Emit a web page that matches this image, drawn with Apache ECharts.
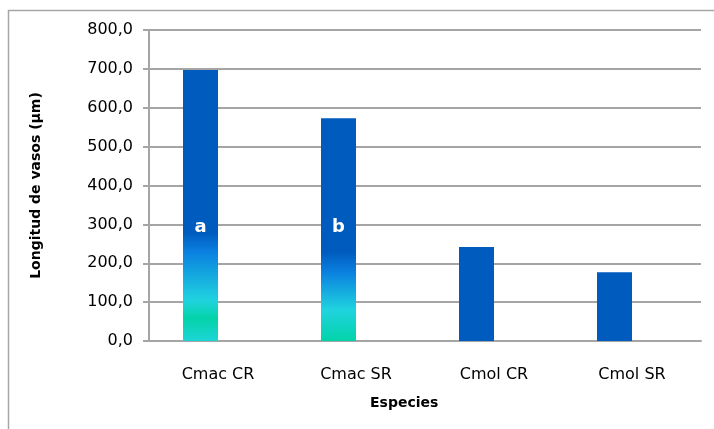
<!DOCTYPE html>
<html>
<head>
<meta charset="utf-8">
<script src="https://cdn.jsdelivr.net/npm/echarts@6/dist/echarts.min.js"></script>
<style>
  html, body { margin: 0; padding: 0; background: #fff; }
  #chart { width: 714px; height: 429px; }
</style>
</head>
<body>
<div id="chart"></div>
<script>
// ---- data ----
const categories = ['Cmac CR', 'Cmac SR', 'Cmol CR', 'Cmol SR'];
const lengths = [697, 573, 242, 177];
const letters = ['a', 'b', '', ''];
const yTicks = [0, 100, 200, 300, 400, 500, 600, 700, 800];
const xTitle = 'Especies';
const yTitle = 'Longitud de vasos (µm)';

const FONT = 'DejaVu Sans';
const GRID_COLOR = '#a5a5a5';

const gradA = new echarts.graphic.LinearGradient(0, 0, 0, 1, [
  { offset: 0, color: '#005BBE' },
  { offset: 0.60, color: '#005BBE' },
  { offset: 0.67, color: '#0A80E0' },
  { offset: 0.85, color: '#20D3DF' },
  { offset: 0.915, color: '#03D3A9' },
  { offset: 1, color: '#1DD5D6' }
]);
const gradB = new echarts.graphic.LinearGradient(0, 0, 0, 1, [
  { offset: 0, color: '#005BBE' },
  { offset: 0.60, color: '#005BBE' },
  { offset: 0.69, color: '#0A80E0' },
  { offset: 0.86, color: '#20D3DF' },
  { offset: 1, color: '#03D3A9' }
]);
const fills = [gradA, gradB, '#005BBE', '#005BBE'];

const barData = lengths.map((v, i) => ({
  value: v,
  itemStyle: { color: fills[i] },
  label: {
    show: letters[i] !== '',
    formatter: letters[i],
    position: 'insideBottom',
    distance: 105,
    color: '#fff',
    fontFamily: FONT,
    fontWeight: 'bold',
    fontSize: 18
  }
}));

const chart = echarts.init(document.getElementById('chart'), null, { renderer: 'canvas' });
chart.setOption({
  animation: false,
  backgroundColor: '#fff',
  graphic: [
    {
      type: 'rect',
      shape: { x: 8.5, y: 10.5, width: 1000, height: 600 },
      style: { fill: 'none', stroke: '#a6a6a6', lineWidth: 1.5 },
      silent: true,
      z: -1
    },
    {
      type: 'text',
      left: 404 - 34,
      top: 396,
      style: { text: xTitle, fill: '#000', font: 'bold 14px "DejaVu Sans"' },
      silent: true
    }
  ],
  grid: { left: 149, right: 13, top: 30, bottom: 88 },
  xAxis: {
    type: 'category',
    data: categories,
    axisLine: { lineStyle: { color: GRID_COLOR, width: 2 } },
    axisTick: { show: false },
    axisLabel: { margin: 26, color: '#000', fontFamily: FONT, fontSize: 16 }
  },
  yAxis: {
    type: 'value',
    min: yTicks[0],
    max: yTicks[yTicks.length - 1],
    interval: yTicks[1] - yTicks[0],
    axisLine: { show: true, lineStyle: { color: GRID_COLOR, width: 2 } },
    axisTick: { show: true, length: 6, lineStyle: { color: GRID_COLOR, width: 2 } },
    splitLine: { show: true, lineStyle: { color: GRID_COLOR, width: 2 } },
    axisLabel: {
      margin: 16,
      color: '#000',
      fontFamily: FONT,
      fontSize: 16,
      formatter: v => v.toFixed(1).replace('.', ',')
    },
    name: yTitle,
    nameLocation: 'middle',
    nameGap: 106,
    nameTextStyle: { color: '#000', fontFamily: FONT, fontSize: 14, fontWeight: 'bold' }
  },
  series: [
    {
      type: 'bar',
      data: barData,
      barWidth: 35,
      barGap: '0%',
      z: 3
    },
    {
      type: 'bar',
      data: categories.map(() => null),
      barWidth: 35
    }
  ]
});
</script>
</body>
</html>
